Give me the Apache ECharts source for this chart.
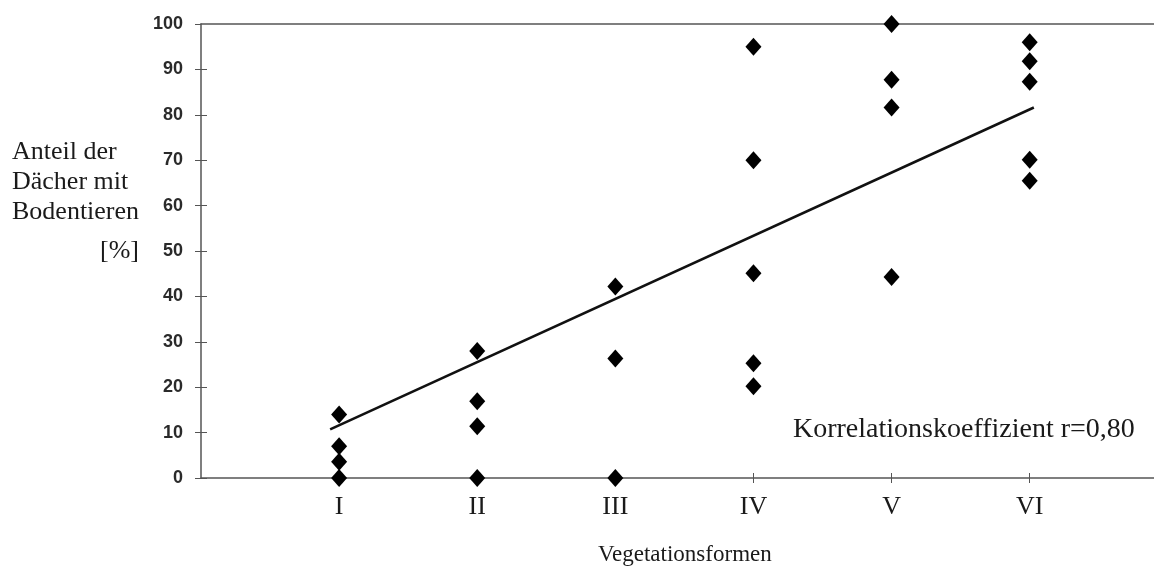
<!DOCTYPE html>
<html>
<head>
<meta charset="utf-8">
<script src="https://cdn.jsdelivr.net/npm/echarts@6/dist/echarts.min.js"></script>
<style>html,body{margin:0;padding:0;background:#fff;}#c{width:1154px;height:569px;}</style>
</head>
<body>
<div id="c"></div>
<script>
// ---- data ----
const categories = ['I', 'II', 'III', 'IV', 'V', 'VI'];
const valuesI = [14.0, 7.0, 3.6, 0];
const valuesII = [28.0, 16.9, 11.4, 0];
const valuesIII = [42.2, 26.3, 0];
const valuesIV = [95.0, 70.0, 45.1, 25.3, 20.2];
const valuesV = [100, 87.7, 81.6, 44.3];
const valuesVI = [96.0, 91.8, 87.3, 70.1, 65.5];
const trendX = [0.935, 6.03];
const trendY = [10.7, 81.6];
const yTicks = [0, 10, 20, 30, 40, 50, 60, 70, 80, 90, 100];
const yTitleLines = ['Anteil der', 'Dächer mit', 'Bodentieren', '[%]'];
const xTitle = 'Vegetationsformen';
const corrText = 'Korrelationskoeffizient r=0,80';

// ---- build ----
const groups = [valuesI, valuesII, valuesIII, valuesIV, valuesV, valuesVI];
const points = [];
groups.forEach((g, i) => g.forEach(v => points.push([i + 1, v])));
const trend = trendX.map((x, i) => [x, trendY[i]]);
const catPos = categories.map((c, i) => i + 1);

const serif = '"Liberation Serif", "DejaVu Serif", serif';
const sans = '"Liberation Sans", Arial, sans-serif';
const axisCol = '#555';
const textCol = '#1a1a1a';

const chart = echarts.init(document.getElementById('c'), null, {renderer: 'canvas'});
chart.setOption({
  animation: false,
  backgroundColor: '#fff',
  grid: {left: 201, right: 0, top: 24, bottom: 91, containLabel: false},
  xAxis: [
    {
      type: 'value', min: 0, max: 6.9, position: 'bottom',
      splitLine: {show: false},
      axisLine: {show: true, onZero: false, lineStyle: {color: axisCol, width: 1.5}},
      axisTick: {show: true, inside: false, length: 5, customValues: catPos, lineStyle: {color: axisCol, width: 1}},
      axisLabel: {
        show: true, customValues: catPos, margin: 16,
        fontFamily: serif, fontSize: 26, color: textCol,
        formatter: v => categories[Math.round(v) - 1] || ''
      }
    },
    {
      type: 'value', min: 0, max: 6.9, position: 'bottom', gridIndex: 0,
      splitLine: {show: false},
      axisLine: {show: false, onZero: false},
      axisTick: {show: true, inside: true, length: 5, customValues: catPos, lineStyle: {color: axisCol, width: 1}},
      axisLabel: {show: false}
    },
    {
      type: 'value', min: 0, max: 6.9, position: 'top',
      splitLine: {show: false},
      axisLine: {show: true, onZero: false, lineStyle: {color: axisCol, width: 1.5}},
      axisTick: {show: false},
      axisLabel: {show: false}
    }
  ],
  yAxis: [
    {
      type: 'value', min: 0, max: 100, interval: 10, position: 'left',
      splitLine: {show: false},
      axisLine: {show: true, onZero: false, lineStyle: {color: axisCol, width: 1.5}},
      axisTick: {show: true, inside: false, length: 6, customValues: yTicks, lineStyle: {color: axisCol, width: 1}},
      axisLabel: {show: true, customValues: yTicks, margin: 18, fontFamily: sans, fontWeight: 'bold', fontSize: 18, color: '#2a2a2a'}
    },
    {
      type: 'value', min: 0, max: 100, interval: 10, position: 'left',
      splitLine: {show: false},
      axisLine: {show: false, onZero: false},
      axisTick: {show: true, inside: true, length: 6, customValues: yTicks.slice(0, -1), lineStyle: {color: axisCol, width: 1}},
      axisLabel: {show: false}
    }
  ],
  series: [
    {
      type: 'line', data: trend, xAxisIndex: 0, yAxisIndex: 0,
      symbol: 'none', clip: false,
      lineStyle: {color: '#111', width: 2.6}, z: 3
    },
    {
      type: 'scatter', data: points, xAxisIndex: 0, yAxisIndex: 0,
      symbol: 'diamond', symbolSize: [16, 18], clip: false,
      itemStyle: {color: '#000', opacity: 1}, z: 4
    }
  ],
  graphic: [
    {type: 'text', left: 12, top: 139, style: {text: yTitleLines[0], font: '26px ' + serif, fill: textCol}},
    {type: 'text', left: 12, top: 169, style: {text: yTitleLines[1], font: '26px ' + serif, fill: textCol}},
    {type: 'text', left: 12, top: 199, style: {text: yTitleLines[2], font: '26px ' + serif, fill: textCol}},
    {type: 'text', left: 100, top: 238, style: {text: yTitleLines[3], font: '26px ' + serif, fill: textCol}},
    {type: 'text', left: 793, top: 416, style: {text: corrText, font: '28px ' + serif, fill: textCol}},
    {type: 'text', left: 598, top: 543, style: {text: xTitle, font: '23px ' + serif, fill: textCol}}
  ]
});
</script>
</body>
</html>
